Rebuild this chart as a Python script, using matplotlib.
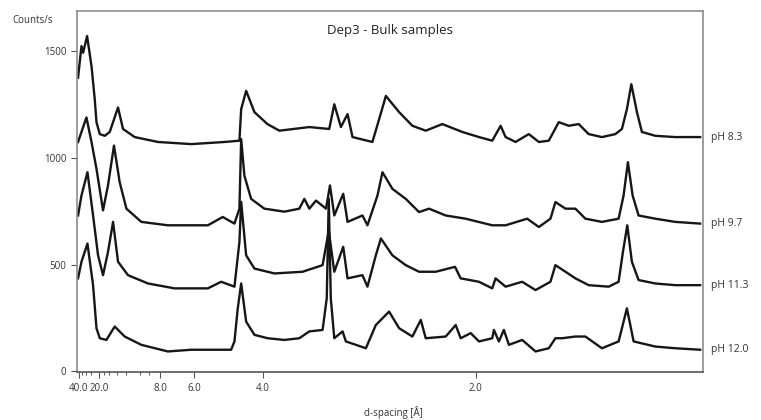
import numpy as np
import matplotlib
matplotlib.use('Agg')
import matplotlib.pyplot as plt

# XRD patterns, Dep3 bulk samples (Cu K-alpha)
# x = 2-theta [deg], y = counts/s

tt_83 = [2.13, 2.50, 2.68, 3.11, 3.59, 3.94, 4.13, 4.49, 5.03, 5.57, 6.47, 7.01, 8.28, 10.80,
         14.42, 18.03, 19.65, 19.84, 20.38, 21.28, 22.69, 23.99, 27.24, 29.40, 29.95, 30.67,
         31.39, 31.93, 34.09, 34.82, 35.55, 36.99, 38.43, 39.88, 41.68, 43.85, 45.66, 47.10,
         48.01, 48.55, 49.63, 51.07, 52.16, 53.24, 54.32, 55.41, 56.49, 57.57, 59.01, 60.47,
         61.18, 61.72, 62.20, 62.81, 63.35, 64.80, 66.97, 69.67]
cps_83 = [1377, 1525, 1494, 1572, 1431, 1276, 1168, 1112, 1104, 1122, 1237, 1136, 1098, 1075,
          1065, 1075, 1081, 1229, 1315, 1215, 1159, 1128, 1145, 1136, 1252, 1145,
          1206, 1098, 1075, 1182, 1291, 1215, 1151, 1128, 1159, 1122, 1098, 1081,
          1151, 1098, 1075, 1112, 1075, 1081, 1168, 1151, 1159, 1112, 1098, 1112,
          1136, 1229, 1346, 1215, 1122, 1104, 1098, 1098]

tt_97 = [2.13, 2.50, 3.04, 3.59, 4.13, 4.84, 5.38, 6.03, 6.65, 7.38, 9.00, 11.88, 16.22, 17.84,
         19.11, 19.65, 19.84, 20.19, 20.92, 22.36, 24.53, 26.15, 26.70, 27.24, 27.96, 29.05,
         29.48, 29.95, 30.92, 31.39, 33.01, 33.55, 34.64, 35.18, 36.26, 37.71, 39.15, 40.24,
         42.05, 44.21, 47.10, 48.55, 50.89, 52.16, 53.42, 53.96, 55.05, 56.13, 57.21, 59.01,
         60.82, 61.36, 61.83, 62.34, 62.99, 64.80, 66.97, 69.67]
cps_97 = [1075, 1122, 1190, 1075, 949, 754, 871, 1058, 886, 762, 700, 684, 684, 723,
          692, 762, 1089, 917, 808, 762, 748, 762, 808, 762, 800, 762,
          871, 730, 832, 700, 730, 684, 824, 933, 855, 808, 746, 762,
          730, 715, 684, 684, 715, 676, 715, 793, 762, 762, 715, 700,
          715, 824, 980, 824, 730, 715, 700, 692]

tt_113 = [2.13, 2.50, 3.15, 3.76, 4.30, 4.84, 5.38, 5.93, 6.47, 7.55, 9.72, 12.61, 16.22, 17.67,
          19.11, 19.65, 19.84, 20.38, 21.28, 23.45, 26.51, 28.68, 29.35, 29.95, 30.92, 31.39,
          33.01, 33.55, 34.46, 35.01, 36.26, 37.71, 39.15, 40.96, 43.06, 43.67, 45.66, 47.10,
          47.46, 48.55, 50.35, 51.80, 53.42, 53.96, 55.05, 56.13, 57.57, 59.74, 60.82, 61.29,
          61.76, 62.26, 62.99, 64.80, 66.97, 69.67]
cps_113 = [730, 824, 933, 730, 543, 450, 559, 700, 513, 450, 411, 388, 388, 419,
           396, 606, 794, 543, 481, 458, 466, 497, 659, 466, 583, 435,
           450, 396, 543, 622, 543, 497, 466, 466, 489, 435, 419, 388,
           435, 396, 419, 380, 419, 497, 466, 435, 403, 396, 419, 559,
           684, 513, 427, 411, 403, 403]

tt_120 = [2.13, 2.50, 3.15, 3.76, 4.13, 4.49, 5.21, 6.11, 7.19, 9.00, 11.88, 14.42, 18.75, 19.11,
          19.47, 19.84, 20.38, 21.28, 22.72, 24.53, 26.15, 27.24, 28.68, 29.13, 29.35, 29.57,
          29.95, 30.85, 31.21, 33.38, 34.46, 35.90, 36.99, 38.43, 39.34, 39.88, 42.05, 43.13,
          43.67, 44.76, 45.66, 47.10, 47.28, 47.82, 48.36, 48.91, 50.35, 51.80, 53.24, 53.96,
          54.68, 56.13, 57.21, 59.01, 60.82, 61.72, 62.45, 64.80, 66.97, 69.67]
cps_120 = [435, 513, 598, 403, 201, 154, 146, 209, 162, 123, 92, 100, 100, 139,
           294, 411, 232, 170, 154, 146, 154, 186, 193, 341, 808, 341,
           154, 186, 139, 107, 216, 279, 201, 162, 240, 154, 162, 216,
           154, 178, 139, 154, 193, 139, 193, 123, 146, 92, 107, 154,
           154, 162, 162, 107, 139, 294, 139, 115, 107, 100]

labels = ['pH 8.3', 'pH 9.7', 'pH 11.3', 'pH 12.0']
d_ticks = [40.0, 20.0, 8.0, 6.0, 4.0, 2.0]
d_minor = [35, 30, 25, 18, 16, 14, 12, 10, 9]
y_ticks = [0, 500, 1000, 1500]

wavelength = 1.5406  # Cu K-alpha


def d_to_2theta(d):
    return 2 * np.degrees(np.arcsin(wavelength / (2 * np.array(d, dtype=float))))


plt.rcParams['font.family'] = 'Open Sans'

fig = plt.figure(figsize=(7.61, 4.20), dpi=100)
ax = fig.add_axes([0.101, 0.114, 0.823, 0.860])

series = [(tt_83, cps_83), (tt_97, cps_97), (tt_113, cps_113), (tt_120, cps_120)]
for (x, y), lab in zip(series, labels):
    ax.plot(x, y, color='#161616', linewidth=1.7, solid_joinstyle='round')
    ax.text(1.013, y[-1], lab, transform=ax.get_yaxis_transform(), fontsize=7.5,
            color='#333333', va='center', ha='left')

ax.set_xlim(2.0, 70.0)
ax.set_ylim(-5, 1690)

ax.set_xticks(d_to_2theta(d_ticks))
ax.set_xticklabels(['%.1f' % d for d in d_ticks])
ax.set_xticks(d_to_2theta(d_minor), minor=True)
ax.set_yticks(y_ticks)

ax.tick_params(axis='both', which='major', labelsize=7, colors='#555555',
               labelcolor='#333333', length=4, width=0.8)
ax.tick_params(axis='x', which='minor', length=2.5, width=0.7, colors='#555555')

for side, sp in ax.spines.items():
    sp.set_color('#8c8c8c')
    sp.set_linewidth(1.2)
ax.spines['bottom'].set_color('#555555')

ax.text(0.5, 0.965, 'Dep3 - Bulk samples', transform=ax.transAxes, fontsize=9.5,
        color='#222222', ha='center', va='top')
fig.text(0.043, 0.952, 'Counts/s', fontsize=7, color='#333333', ha='center', va='center')
fig.text(0.517, 0.017, 'd-spacing [Å]', fontsize=7, color='#333333', ha='center', va='center')

fig.savefig('out.png', dpi=100)
